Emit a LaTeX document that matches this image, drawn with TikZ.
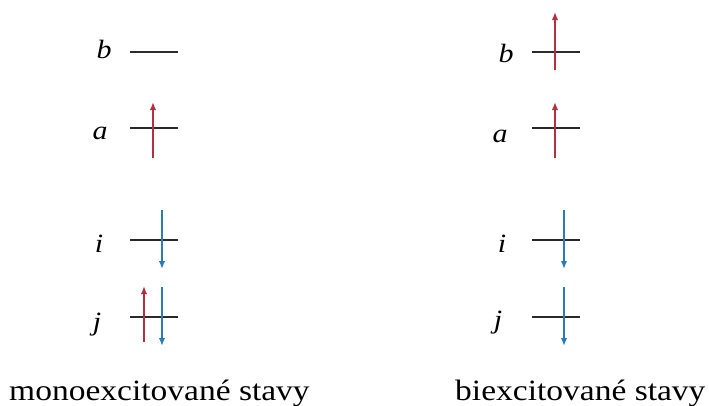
\documentclass[tikz,border=0pt]{standalone}
\usepackage{fontspec}
\setmainfont{Liberation Serif}
\usetikzlibrary{arrows.meta}
\definecolor{spinred}{HTML}{B3303E}
\definecolor{spinblue}{HTML}{2B7BBA}
\definecolor{levelc}{HTML}{2A2A2A}
\tikzset{
  lvline/.style={draw=levelc, line width=2pt},
  spinup/.style={draw=spinred, line width=1.7pt, -{Latex[length=8pt,width=6.5pt]}},
  spindown/.style={draw=spinblue, line width=1.7pt, -{Latex[length=8pt,width=6.5pt]}},
  lab/.style={anchor=base, inner sep=0pt, font=\fontsize{30}{30}\selectfont\itshape, yscale=0.88, transform shape},
  captext/.style={anchor=base west, inner sep=0pt, font=\fontsize{33.5}{33.5}\selectfont, yscale=0.88, transform shape}
}
\begin{document}
\begin{tikzpicture}[x=1pt,y=-1pt]
\useasboundingbox (0,0) rectangle (709,405);
% ---------- left column ----------
\node[lab] (Lb) at (104,58) {b};
\node[lab] (La) at (100,139) {a};
\node[lab] (Li) at (99,252) {i};
\node[lab] (Lj) at (97,330) {j};
\coordinate (Lb1) at (130,52); \coordinate (Lb2) at (178,52);
\coordinate (La1) at (130,128); \coordinate (La2) at (178,128);
\coordinate (Li1) at (130,240); \coordinate (Li2) at (178,240);
\coordinate (Lj1) at (130,317); \coordinate (Lj2) at (178,317);
\draw[lvline] (Lb1) -- (Lb2);
\draw[lvline] (La1) -- (La2);
\draw[lvline] (Li1) -- (Li2);
\draw[lvline] (Lj1) -- (Lj2);
\coordinate (Las) at (153,158); \coordinate (Lae) at (153,102);
\draw[spinup] (Las) -- (Lae);
\coordinate (Lis) at (162,210); \coordinate (Lie) at (162,269);
\draw[spindown] (Lis) -- (Lie);
\coordinate (Ljrs) at (144,342); \coordinate (Ljre) at (144,286);
\draw[spinup] (Ljrs) -- (Ljre);
\coordinate (Ljbs) at (162,287); \coordinate (Ljbe) at (162,346);
\draw[spindown] (Ljbs) -- (Ljbe);
% ---------- right column ----------
\node[lab] (Rb) at (506,62) {b};
\node[lab] (Ra) at (500,142) {a};
\node[lab] (Ri) at (502,252) {i};
\node[lab] (Rj) at (498,328) {j};
\coordinate (Rb1) at (532,52); \coordinate (Rb2) at (580,52);
\coordinate (Ra1) at (532,128); \coordinate (Ra2) at (580,128);
\coordinate (Ri1) at (532,240); \coordinate (Ri2) at (580,240);
\coordinate (Rj1) at (532,317); \coordinate (Rj2) at (580,317);
\draw[lvline] (Rb1) -- (Rb2);
\draw[lvline] (Ra1) -- (Ra2);
\draw[lvline] (Ri1) -- (Ri2);
\draw[lvline] (Rj1) -- (Rj2);
\coordinate (Rbs) at (555,70); \coordinate (Rbe) at (555,12);
\draw[spinup] (Rbs) -- (Rbe);
\coordinate (Ras) at (555,158); \coordinate (Rae) at (555,102);
\draw[spinup] (Ras) -- (Rae);
\coordinate (Ris) at (564,210); \coordinate (Rie) at (564,269);
\draw[spindown] (Ris) -- (Rie);
\coordinate (Rjs) at (564,287); \coordinate (Rje) at (564,346);
\draw[spindown] (Rjs) -- (Rje);
% ---------- captions ----------
\node[captext] (Lcap) at (9,400) {monoexcitované stavy};
\node[captext] (Rcap) at (455,400) {biexcitované stavy};
\end{tikzpicture}
\end{document}
